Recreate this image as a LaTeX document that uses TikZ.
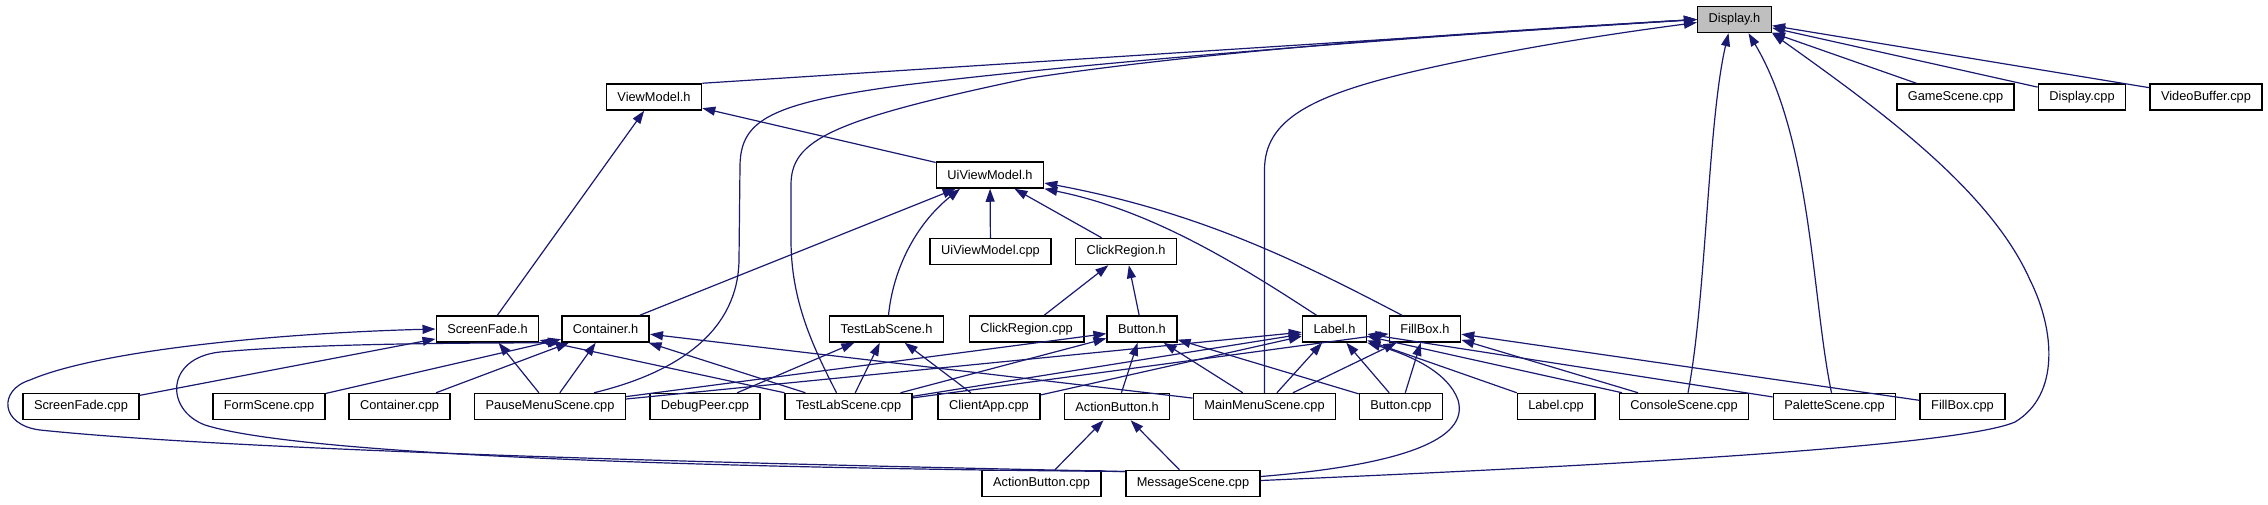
\documentclass[tikz,border=0pt]{standalone}
\usepackage{fontspec}
\setmainfont{Liberation Sans}
\usepackage{xcolor}
\definecolor{dxblue}{HTML}{191970}
\definecolor{dxgray}{HTML}{BFBFBF}
\usepackage{tikz}
\usetikzlibrary{arrows.meta}

\begin{document}
\begin{tikzpicture}[x=1pt, y=-1pt,
   box/.style={draw=black, line width=1.5pt, fill=white, minimum height=26pt, inner xsep=11pt, inner ysep=0pt, font=\fontsize{12.8}{15}\selectfont},
   hl/.style={box, fill=dxgray},
   arr/.style={-{Triangle[length=13pt, width=9pt]}, line width=1.2pt, color=dxblue}]
  \useasboundingbox (0,0) rectangle (2268,504);
  \node[hl] (displayh) at (1734.5,19.5) {Display.h};
  \node[box] (viewmodelh) at (654,97) {ViewModel.h};
  \node[box] (gamescenecpp) at (1955.5,97) {GameScene.cpp};
  \node[box] (displaycpp) at (2082,97) {Display.cpp};
  \node[box] (videobuffercpp) at (2206,97) {VideoBuffer.cpp};
  \node[box] (uiviewmodelh) at (990,175) {UiViewModel.h};
  \node[box] (uiviewmodelcpp) at (990.5,251.5) {UiViewModel.cpp};
  \node[box] (clickregionh) at (1126,251.5) {ClickRegion.h};
  \node[box] (screenfadeh) at (487.5,329) {ScreenFade.h};
  \node[box] (containerh) at (605.5,329) {Container.h};
  \node[box] (testlabh) at (886.5,329) {TestLabScene.h};
  \node[box] (clickregioncpp) at (1026.5,329) {ClickRegion.cpp};
  \node[box] (buttonh) at (1142,329) {Button.h};
  \node[box] (labelh) at (1334.5,329) {Label.h};
  \node[box] (fillboxh) at (1425,329) {FillBox.h};
  \node[box] (screenfadecpp) at (81,406.5) {ScreenFade.cpp};
  \node[box] (formscenecpp) at (269,406.5) {FormScene.cpp};
  \node[box] (containercpp) at (399.5,406.5) {Container.cpp};
  \node[box] (pausemenucpp) at (550,406.5) {PauseMenuScene.cpp};
  \node[box] (debugpeercpp) at (705,406.5) {DebugPeer.cpp};
  \node[box] (testlabcpp) at (848.5,406.5) {TestLabScene.cpp};
  \node[box] (clientappcpp) at (989,406.5) {ClientApp.cpp};
  \node[box] (actionbuttonh) at (1117,406.5) {ActionButton.h};
  \node[box] (mainmenucpp) at (1264.5,406.5) {MainMenuScene.cpp};
  \node[box] (buttoncpp) at (1401,406.5) {Button.cpp};
  \node[box] (labelcpp) at (1556,406.5) {Label.cpp};
  \node[box] (consolecpp) at (1684,406.5) {ConsoleScene.cpp};
  \node[box] (palettecpp) at (1834.5,406.5) {PaletteScene.cpp};
  \node[box] (fillboxcpp) at (1962.5,406.5) {FillBox.cpp};
  \node[box] (actionbuttoncpp) at (1041.5,483.5) {ActionButton.cpp};
  \node[box] (messagecpp) at (1193,483.5) {MessageScene.cpp};
  \foreach \i/\j in {gamescenecpp/displayh, displaycpp/displayh, videobuffercpp/displayh,
      screenfadeh/viewmodelh, uiviewmodelh/viewmodelh,
      containerh/uiviewmodelh, uiviewmodelcpp/uiviewmodelh, clickregionh/uiviewmodelh,
      clickregioncpp/clickregionh, buttonh/clickregionh,
      screenfadecpp/screenfadeh, pausemenucpp/screenfadeh, testlabcpp/screenfadeh,
      formscenecpp/containerh, containercpp/containerh, pausemenucpp/containerh, testlabcpp/containerh, mainmenucpp/containerh,
      debugpeercpp/testlabh, testlabcpp/testlabh, clientappcpp/testlabh,
      pausemenucpp/buttonh, testlabcpp/buttonh, actionbuttonh/buttonh, mainmenucpp/buttonh, buttoncpp/buttonh,
      actionbuttoncpp/actionbuttonh, messagecpp/actionbuttonh,
      pausemenucpp/labelh, testlabcpp/labelh, clientappcpp/labelh, mainmenucpp/labelh, buttoncpp/labelh, labelcpp/labelh, consolecpp/labelh, palettecpp/labelh,
      testlabcpp/fillboxh, mainmenucpp/fillboxh, buttoncpp/fillboxh, consolecpp/fillboxh, fillboxcpp/fillboxh}
    \draw[arr] (\i) -- (\j);
  \draw[arr] (viewmodelh.north east) -- (displayh.west);
  \draw[arr] ([xshift=44pt]pausemenucpp.north) .. controls (680,372) and (738,330) .. (739,260) -- (740,165) .. controls (741,120) and (770,103) .. (905,85) .. controls (1150,55) and (1550,28) .. (displayh.west);
  \draw[arr] ([xshift=-12pt]testlabcpp.north) .. controls (812,345) and (791,300) .. (791,240) -- (791,185) .. controls (791,140) and (830,120) .. (1030,78) .. controls (1250,45) and (1550,28) .. (displayh.west);
  \draw[arr] (mainmenucpp.north) -- (1264.5,170) .. controls (1264.5,120) and (1310,95) .. (1420,70) .. controls (1530,45) and (1640,30) .. ([yshift=-3pt]displayh.west);
  \draw[arr] ([xshift=4pt]consolecpp.north) .. controls (1706,300) and (1708,120) .. ([xshift=-6pt]displayh.south);
  \draw[arr] ([xshift=-3pt]palettecpp.north) .. controls (1812,300) and (1812,140) .. ([xshift=14pt]displayh.south);
  \draw[arr] ([yshift=3pt]messagecpp.east) .. controls (1500,470) and (1950,450) .. (2015,422) .. controls (2060,395) and (2055,330) .. (2030,280) .. controls (1990,190) and (1880,110) .. (displayh.south east);
  \draw[arr] ([yshift=12pt]messagecpp.west) .. controls (800,465) and (250,452) .. (40,430) .. controls (0,425) and (-2,390) .. (30,380) .. controls (100,350) and (280,333) .. (screenfadeh.west);
  \draw[arr] ([yshift=12pt]messagecpp.west) .. controls (700,468) and (300,455) .. (205,425) .. controls (165,410) and (165,358) .. (220,352) .. controls (320,343) and (480,343) .. (containerh.south west);
  \draw[arr] ([yshift=7pt]messagecpp.east) .. controls (1400,465) and (1470,440) .. (1458,400) .. controls (1448,372) and (1410,355) .. (labelh.south east);
  \draw[arr] ([xshift=-18pt]labelh.north) .. controls (1235,262) and (1150,210) .. (uiviewmodelh.south east);
  \draw[arr] ([xshift=-23pt]fillboxh.north) .. controls (1300,262) and (1200,212) .. ([yshift=-8pt]uiviewmodelh.east);
  \draw[arr] ([xshift=2pt]testlabh.north) .. controls (893,270) and (915,225) .. ([xshift=-30pt]uiviewmodelh.south);
\end{tikzpicture}
\end{document}
